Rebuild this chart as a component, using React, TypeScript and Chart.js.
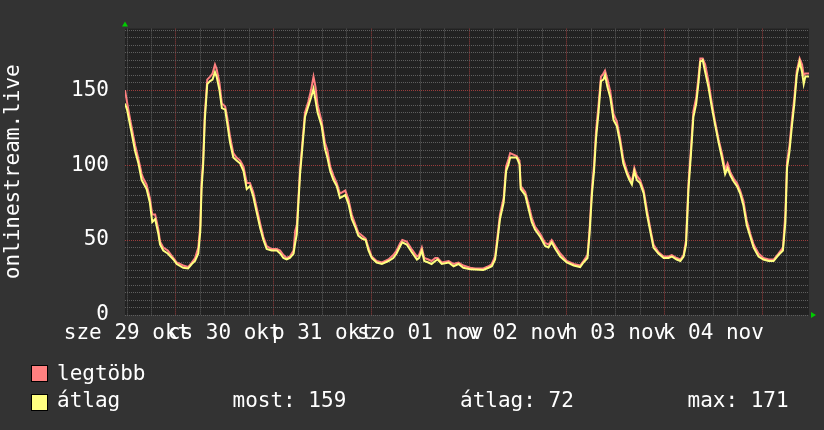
import React, { useEffect, useRef } from "react";
import { Chart, registerables } from "chart.js";
Chart.register(...registerables);

// hours since 29 Oct 00:00
const hours = [
  11.5, 12.0, 12.8, 14.0, 14.8, 15.6, 16.0, 16.8, 17.6, 18.2, 18.9, 19.7, 20.1, 20.9, 22.0, 23.4, 24.2, 25.8, 27.0, 27.9,
  28.7, 29.5, 30.0, 30.3, 30.7, 31.1, 31.7, 32.4, 33.0, 33.6, 34.0, 34.7, 35.3, 36.1, 36.6, 37.3, 38.1, 38.9, 39.8, 40.6,
  41.4, 42.2, 43.0, 43.8, 44.7, 45.5, 46.3, 47.5, 48.8, 49.6, 50.4, 51.2, 52.0, 52.9, 53.3, 53.7, 54.1, 54.5, 55.1, 55.7,
  56.5, 57.2, 57.8, 58.3, 58.8, 59.8, 60.6, 61.2, 61.9, 62.7, 63.5, 64.3, 65.6, 66.4, 67.2, 68.0, 68.8, 69.7, 70.6, 71.3,
  72.1, 73.3, 74.6, 76.2, 77.4, 78.2, 79.1, 79.6, 80.7, 81.9, 83.2, 83.7, 84.4, 85.0, 86.0, 86.8, 87.7, 88.3, 89.3, 91.0,
  92.2, 93.4, 94.6, 96.3, 97.5, 99.5, 100.8, 101.6, 102.4, 103.0, 103.6, 104.5, 105.1, 105.7, 106.1, 106.9, 107.7, 108.4, 108.7, 109.8,
  110.6, 111.4, 112.2, 113.5, 114.7, 115.5, 116.3, 117.2, 118.4, 120.0, 121.7, 123.3, 124.1, 125.1, 125.6, 126.2, 126.7, 127.2, 127.8, 128.4,
  129.0, 129.4, 130.0, 130.7, 131.5, 132.3, 133.1, 133.9, 134.8, 135.4, 136.0, 136.6, 137.2, 138.0, 138.9, 139.7, 140.5, 141.3, 142.5, 143.8,
  145.0, 145.8, 147.0, 147.9, 148.7, 149.3, 149.9, 150.5, 151.1, 151.8, 152.4, 152.8, 153.4, 154.0, 154.8, 155.6, 156.5, 157.3, 158.1, 158.9,
  159.5, 160.2, 161.0, 161.8, 162.6, 163.4, 164.2, 165.1, 165.9, 167.1, 168.3, 169.6, 170.8, 172.0, 173.1, 173.7, 174.1, 174.7, 175.3, 175.9,
  176.5, 177.2, 177.8, 178.2, 178.6, 179.5,
];

const atlag = [
  141, 137, 126, 109, 101, 90, 88, 84, 75, 62, 64, 54, 47, 43, 41, 37, 34, 31.5, 31, 34,
  36, 41, 56, 84, 100, 130, 154, 156, 157, 162, 159, 150, 138, 137, 128, 115, 105, 103, 101, 96,
  84, 86, 79, 69, 58, 50, 44, 43, 43, 41, 38, 37, 38, 41, 48, 54, 75, 94, 113, 132,
  139, 145, 151, 143, 135, 126, 111, 105, 96, 90, 86, 78, 80, 74, 64, 59, 53, 51, 50, 43,
  38, 35, 34, 36, 38, 41, 46, 48.5, 47, 42, 37, 38, 43, 36, 35, 34, 36, 37, 34, 35,
  32.5, 34, 31.5, 30.5, 30.4, 30, 31.5, 32.5, 37, 50, 64, 75, 96, 100.6, 105, 105, 105, 100.6, 84, 80,
  71, 62, 57, 52, 46, 45, 48.5, 44, 39, 35, 33, 32, 35, 38, 54, 81, 96, 118, 135, 156,
  157, 160, 152, 145, 130, 126, 115, 101, 94, 90, 87, 96, 90, 88, 81, 67, 56, 45, 41, 38,
  38, 39, 37, 36, 39, 47, 84, 107, 132, 141, 156, 169, 170, 162, 152, 139, 126, 115, 105, 94,
  98, 93, 89, 86, 81, 73, 60, 52, 45, 39, 37, 36, 36, 40, 43, 62, 98, 109, 126, 141,
  160, 169, 162, 154, 159, 159,
];

const legtobb = [
  150, 142, 130, 113, 104, 94, 91, 87, 78, 67, 67, 57, 49, 45, 43, 38, 35, 33, 32, 35,
  38, 45, 60, 88, 104, 134, 157, 159, 161, 167, 164, 155, 141, 139, 132, 119, 108, 105, 103, 99,
  88, 88, 82, 72, 61, 52, 46, 44, 44, 43, 40, 38, 39, 43, 56, 60, 78, 97, 116, 135,
  142, 150, 159, 152, 140, 129, 115, 110, 99, 93, 88, 81, 83, 77, 67, 61, 55, 53, 51, 45,
  39, 36, 35, 37, 40, 43, 48, 50, 49, 44, 39, 40, 45, 38, 37, 36, 38, 38, 35, 36,
  34, 35, 33, 31.5, 31, 31, 32.5, 34, 39, 53, 67, 78, 99, 104, 108, 107, 106, 103, 86, 82,
  74, 65, 59, 54, 48, 47, 50, 46, 41, 36, 34, 33, 36, 40, 57, 85, 100, 123, 140, 159,
  161, 163, 157, 149, 134, 129, 118, 104, 96, 92, 89, 98, 93, 90, 83, 70, 58, 47, 42, 39,
  39, 40, 38, 37, 40, 50, 88, 111, 136, 145, 160, 171, 171, 167, 156, 142, 128, 117, 108, 97,
  101, 95, 91, 88, 83, 76, 63, 54, 47, 41, 38, 37, 37, 41, 45, 68, 102, 113, 130, 145,
  163, 171, 167, 160, 161, 161,
];

const dayTickHours = [12, 36, 60, 84, 108, 132, 156];
const dayLabels = ["sze 29 okt", "cs 30 okt", "p 31 okt", "szo 01 nov", "v 02 nov", "h 03 nov", "k 04 nov"];
const xMin = 11.5;
const xMax = 179.5;
const yMax = 191;
const yLabelStep = 50;

const statMost = 159;
const statAtlag = 72;
const statMax = 171;

const FONT = "'DejaVu Sans Mono', monospace";
const PINK = "#FF8080";
const YELLOW = "#FFFF80";
const MAJOR = "#9A3C3C";
const MINOR = "#5E5E5E";

const decoPlugin = {
  id: "rrdDeco",
  beforeDraw(chart: any) {
    const { ctx, chartArea: a } = chart;
    ctx.save();
    ctx.fillStyle = "#222222";
    ctx.fillRect(a.left, a.top, a.right - a.left, a.bottom - a.top);
    ctx.restore();
  },
  afterDraw(chart: any) {
    const { ctx, chartArea: a } = chart;
    ctx.save();
    ctx.fillStyle = "#00CC00";
    ctx.beginPath();
    ctx.moveTo(a.left - 3, a.top - 2);
    ctx.lineTo(a.left + 3, a.top - 2);
    ctx.lineTo(a.left, a.top - 7);
    ctx.closePath();
    ctx.fill();
    ctx.beginPath();
    ctx.moveTo(a.right + 2, a.bottom - 3);
    ctx.lineTo(a.right + 2, a.bottom + 3);
    ctx.lineTo(a.right + 7, a.bottom);
    ctx.closePath();
    ctx.fill();
    ctx.restore();
  },
};

export default function App() {
  const ref = useRef<HTMLCanvasElement>(null);
  useEffect(() => {
    if (!ref.current) return;
    const xTicks: number[] = [];
    for (let h = 12; h <= xMax; h += 6) xTicks.push(h);
    const yTicks: number[] = [];
    for (let v = 0; v <= yMax; v += 5) yTicks.push(v);
    const chart = new Chart(ref.current, {
      type: "line",
      data: {
        datasets: [
          {
            label: "átlag",
            data: hours.map((h, i) => ({ x: h, y: atlag[i] })),
            borderColor: YELLOW,
            borderWidth: 2,
            pointRadius: 0,
            tension: 0,
            order: 0,
          },
          {
            label: "legtöbb",
            data: hours.map((h, i) => ({ x: h, y: legtobb[i] })),
            borderColor: PINK,
            borderWidth: 2,
            pointRadius: 0,
            tension: 0,
            order: 1,
          },
        ],
      },
      options: {
        responsive: false,
        animation: false,
        devicePixelRatio: 1,
        layout: { padding: { top: 15, right: 15, left: 0, bottom: 0 } },
        plugins: { legend: { display: false }, tooltip: { enabled: false } },
        scales: {
          x: {
            type: "linear",
            min: xMin,
            max: xMax,
            afterBuildTicks: (s: any) => {
              s.ticks = xTicks.map((v) => ({ value: v }));
            },
            afterFit: (s: any) => {
              s.height = 115;
            },
            ticks: {
              autoSkip: false,
              maxRotation: 0,
              minRotation: 0,
              padding: 6,
              color: "#FFFFFF",
              font: { family: FONT, size: 21 },
              callback: (v: any) => {
                const i = dayTickHours.indexOf(Number(v));
                return i >= 0 ? dayLabels[i] : "";
              },
            },
            grid: {
              drawTicks: false,
              lineWidth: 1,
              color: (c: any) => (c.tick && c.tick.value % 24 === 0 ? MAJOR : MINOR),
            },
            border: { display: false, dash: [1, 1] },
          },
          y: {
            type: "linear",
            min: 0,
            max: yMax,
            afterBuildTicks: (s: any) => {
              s.ticks = yTicks.map((v) => ({ value: v }));
            },
            afterFit: (s: any) => {
              s.width = 125;
            },
            ticks: {
              autoSkip: false,
              padding: 16,
              color: "#FFFFFF",
              font: { family: FONT, size: 21 },
              callback: (v: any) => (Number(v) % yLabelStep === 0 ? String(v) : ""),
            },
            grid: {
              drawTicks: false,
              lineWidth: 1,
              color: (c: any) =>
                c.tick && c.tick.value % yLabelStep === 0 && c.tick.value !== 0 ? MAJOR : MINOR,
            },
            border: { display: false, dash: [1, 1] },
            title: {
              display: true,
              text: "onlinestream.live",
              color: "#FFFFFF",
              font: { family: FONT, size: 21 },
              padding: { top: 1, bottom: 0 },
            },
          },
        },
      },
      plugins: [decoPlugin],
    } as any);
    return () => chart.destroy();
  }, []);

  const textStyle: React.CSSProperties = {
    position: "absolute",
    fontFamily: FONT,
    fontSize: 21,
    lineHeight: "21px",
    color: "#FFFFFF",
    whiteSpace: "pre",
  };
  const box = (top: number, color: string): React.CSSProperties => ({
    position: "absolute",
    left: 31,
    top,
    width: 17,
    height: 17,
    boxSizing: "border-box",
    border: "1px solid #000",
    background: color,
  });

  return (
    <div style={{ position: "fixed", left: 0, top: 0, width: 824, height: 430, background: "#333333", overflow: "hidden" }}>
      <canvas ref={ref} width={824} height={430} style={{ position: "absolute", left: 0, top: 0, width: 824, height: 430 }} />
      <div style={box(365, PINK)} />
      <div style={box(393.5, YELLOW)} />
      <div style={{ ...textStyle, left: 57, top: 363 }}>legtöbb</div>
      <div style={{ ...textStyle, left: 57, top: 390 }}>átlag</div>
      <div style={{ ...textStyle, left: 232.5, top: 390 }}>most: {statMost}</div>
      <div style={{ ...textStyle, left: 460, top: 390 }}>átlag: {statAtlag}</div>
      <div style={{ ...textStyle, left: 687.5, top: 390 }}>max: {statMax}</div>
    </div>
  );
}
